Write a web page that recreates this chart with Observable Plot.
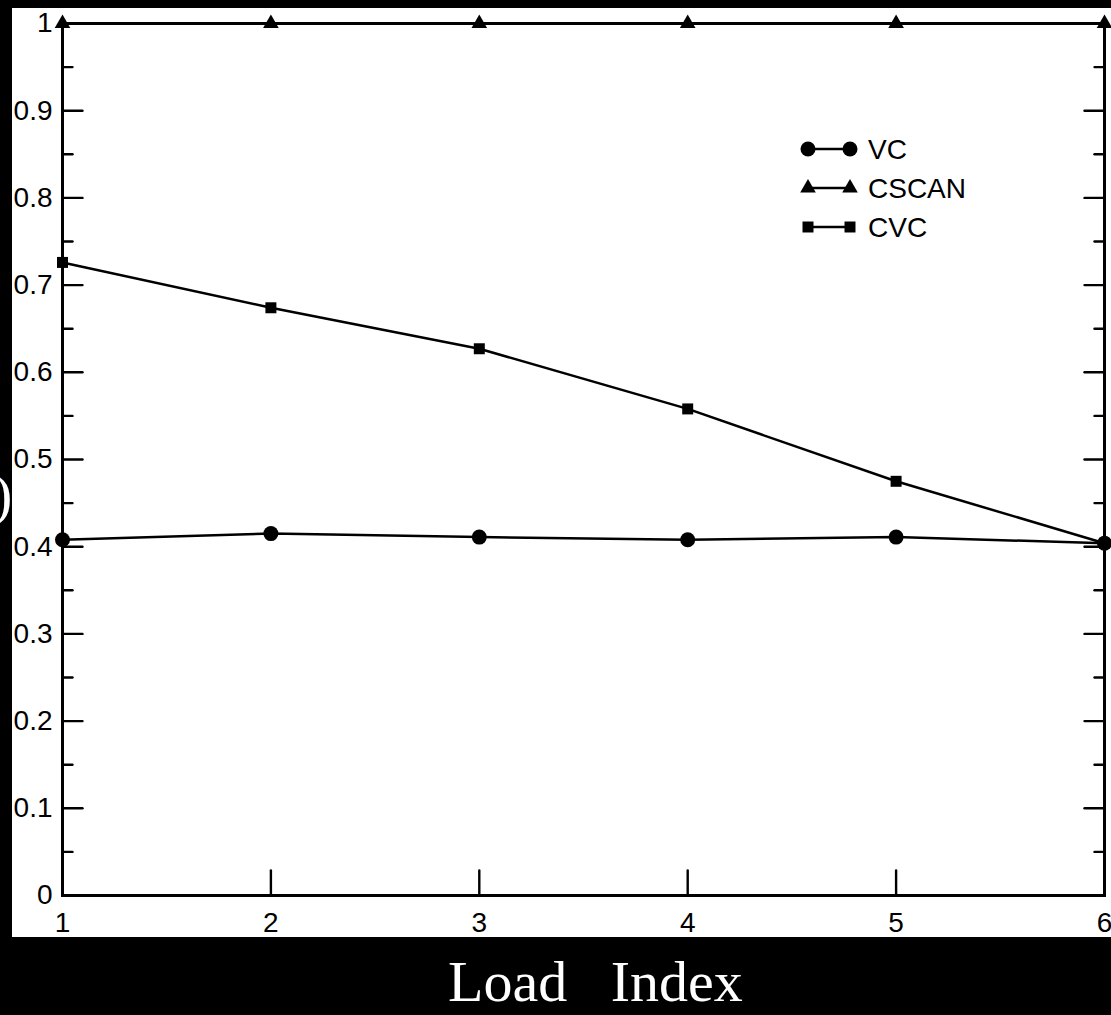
<!DOCTYPE html>
<html>
<head>
<meta charset="utf-8">
<script src="https://cdn.jsdelivr.net/npm/d3@7"></script>
<script src="https://cdn.jsdelivr.net/npm/@observablehq/plot@0.6"></script>
<style>
  html, body { margin: 0; padding: 0; background: #000; }
  #page { position: relative; width: 1111px; height: 1015px; background: #000; overflow: hidden; }
  #paren { position: absolute; left: -7px; top: 466px; font-family: "Liberation Serif", "Times New Roman", serif; font-size: 58px; line-height: 58px; color: #fff; }
  #panel { position: absolute; left: 12px; top: 8px; width: 1099px; height: 929px; background: #fff; overflow: hidden; }
  #xlabel { position: absolute; left: 448px; top: 953px; font-family: "Liberation Serif", "Times New Roman", serif; font-size: 58px; line-height: 58px; color: #fff; white-space: pre; }
</style>
</head>
<body>
<div id="page">
  <div id="paren">)</div>
  <div id="panel"></div>
  <div id="xlabel">Load   Index</div>
</div>
<script>
// ---- data ----
const loadIndex = [1, 2, 3, 4, 5, 6];
const vcValues = [0.408, 0.415, 0.411, 0.408, 0.411, 0.404];
const cscanValues = [1, 1, 1, 1, 1, 1];
const cvcValues = [0.726, 0.674, 0.627, 0.558, 0.475, 0.404];
const seriesNames = ["VC", "CSCAN", "CVC"];
const yTicks = [0, 0.1, 0.2, 0.3, 0.4, 0.5, 0.6, 0.7, 0.8, 0.9, 1];
const yMinorTicks = [0.05, 0.15, 0.25, 0.35, 0.45, 0.55, 0.65, 0.75, 0.85, 0.95];
const xTicks = [1, 2, 3, 4, 5, 6];

const toRows = (vals) => loadIndex.map((x, i) => ({x, y: vals[i]}));
const vcRows = toRows(vcValues);
const cscanRows = toRows(cscanValues);
const cvcRows = toRows(cvcValues);

const tickShape = { draw(ctx, l) { ctx.moveTo(0, 0); ctx.lineTo(0, -l); } };
const tickStyle = {stroke: "black", strokeWidth: 2.4, anchor: "start", shape: tickShape};
const font = "'Liberation Sans', Arial, Helvetica, sans-serif";

const chart = Plot.plot({
  width: 1099,
  height: 929,
  marginLeft: 50,
  marginRight: 7,
  marginTop: 15,
  marginBottom: 42,
  style: {background: "white", color: "black", fontFamily: font, overflow: "hidden"},
  x: {domain: [1, 6]},
  y: {domain: [0, 1]},
  marks: [
    // inward ticks on left, right and bottom axes
    Plot.vector(yTicks, {y: d => d, frameAnchor: "left", length: 20, rotate: 90, ...tickStyle}),
    Plot.vector(yMinorTicks, {y: d => d, frameAnchor: "left", length: 10, rotate: 90, ...tickStyle}),
    Plot.vector(yTicks, {y: d => d, frameAnchor: "right", length: 20, rotate: -90, ...tickStyle}),
    Plot.vector(yMinorTicks, {y: d => d, frameAnchor: "right", length: 10, rotate: -90, ...tickStyle}),
    Plot.vector(xTicks, {x: d => d, frameAnchor: "bottom", length: 25, rotate: 0, ...tickStyle}),
    Plot.frame({stroke: "black", strokeWidth: 3}),
    Plot.axisY(yTicks, {tickSize: 0, tickPadding: 10, tickFormat: d => String(d), fontSize: 28, label: null}),
    Plot.axisX(xTicks, {tickSize: 0, tickPadding: 17, tickFormat: d => String(d), fontSize: 28, label: null}),
    // series
    Plot.line(cvcRows, {x: "x", y: "y", stroke: "black", strokeWidth: 2.5}),
    Plot.line(vcRows, {x: "x", y: "y", stroke: "black", strokeWidth: 2.5}),
    Plot.line(cscanRows, {x: "x", y: "y", stroke: "black", strokeWidth: 3}),
    Plot.dot(cvcRows, {x: "x", y: "y", symbol: "square", r: 6.2, fill: "black"}),
    Plot.dot(vcRows, {x: "x", y: "y", symbol: "circle", r: 7.5, fill: "black"}),
    Plot.dot(cscanRows, {x: "x", y: "y", symbol: "triangle", r: 5.8, fill: "black"})
  ]
});
document.getElementById("panel").appendChild(chart);

// ---- legend (inside the plot panel, top right) ----
const legendSymbols = [d3.symbolCircle, d3.symbolTriangle, d3.symbolSquare];
const legendSizes = [Math.PI * 7.5 * 7.5, Math.PI * 5.8 * 5.8, Math.PI * 6.2 * 6.2];
const lg = d3.select("#panel").append("svg")
  .attr("width", 1099).attr("height", 929)
  .style("position", "absolute").style("left", "0px").style("top", "0px")
  .style("pointer-events", "none");
const rows = lg.selectAll("g").data(seriesNames).join("g")
  .attr("transform", (d, i) => `translate(796, ${141 + i * 39})`);
rows.append("line").attr("x1", 0).attr("x2", 42).attr("y1", 0).attr("y2", 0)
  .attr("stroke", "black").attr("stroke-width", 2.5);
rows.append("path").attr("d", (d, i) => d3.symbol(legendSymbols[i], legendSizes[i])()).attr("fill", "black");
rows.append("path").attr("d", (d, i) => d3.symbol(legendSymbols[i], legendSizes[i])())
  .attr("transform", "translate(42,0)").attr("fill", "black");
rows.append("text").attr("x", 60).attr("y", 0).attr("dy", "0.36em")
  .style("font-family", font).style("font-size", "28px").attr("fill", "black")
  .text(d => d);
</script>
</body>
</html>
